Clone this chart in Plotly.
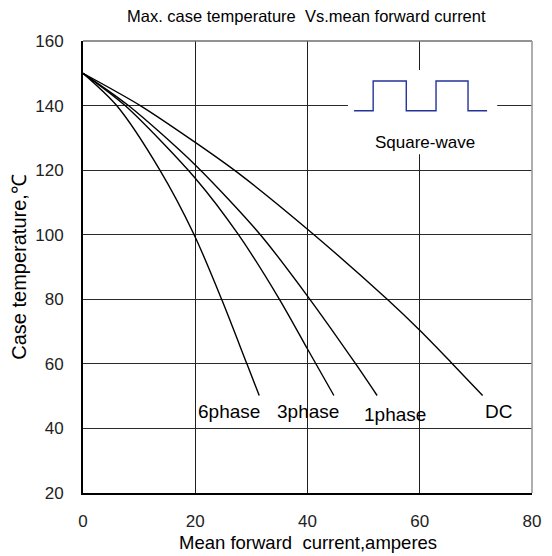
import plotly.graph_objects as go

# ---- data ----
dc_x = [0, 10.2, 20, 27.5, 40, 54.2, 60, 65.5, 71.2]
dc_y = [150, 140, 128.6, 119.3, 101.7, 80, 70.4, 60.6, 50.2]

ph1_x = [0, 8.1, 20, 31.6, 40, 48.5, 52.4]
ph1_y = [150, 140, 121.6, 100, 81.0, 60.2, 50.2]

ph3_x = [0, 7.5, 20, 27.7, 35.0, 40, 44.7]
ph3_y = [150, 140, 117.5, 100, 80, 64.6, 50.2]

ph6_x = [0, 6.0, 13.7, 19.8, 24.7, 29.2, 31.4]
ph6_y = [150, 140, 120, 100, 80, 60, 50.2]

curve_labels = ["6phase", "3phase", "1phase", "DC"]
label_x = [26.0, 40.1, 55.6, 74.0]
label_y = [45.1, 45.1, 44.2, 45.1]

# square-wave inset symbol
sq_x = [48.3, 51.7, 51.7, 57.6, 57.6, 62.9, 62.9, 68.6, 68.6, 72.0]
sq_y = [138.4, 138.4, 147.6, 147.6, 138.4, 138.4, 147.6, 147.6, 138.4, 138.4]

x_ticks = [0, 20, 40, 60, 80]
y_ticks = [20, 40, 60, 80, 100, 120, 140, 160]

FONT = "Liberation Sans, Arial, sans-serif"

fig = go.Figure()
for xs, ys in [(dc_x, dc_y), (ph1_x, ph1_y), (ph3_x, ph3_y), (ph6_x, ph6_y)]:
    fig.add_trace(go.Scatter(x=xs, y=ys, mode="lines",
                             line=dict(color="black", width=1.4, shape="spline", smoothing=0.8),
                             showlegend=False, hoverinfo="skip"))

fig.add_trace(go.Scatter(x=sq_x, y=sq_y, mode="lines",
                         line=dict(color="#23339a", width=1.4),
                         showlegend=False, hoverinfo="skip"))

annotations = []
for t, lx, ly in zip(curve_labels, label_x, label_y):
    annotations.append(dict(x=lx, y=ly, text=t, showarrow=False,
                            font=dict(family=FONT, size=19, color="black"),
                            xanchor="center", yanchor="middle"))
annotations.append(dict(x=61.0, y=128.7, text="Square-wave", showarrow=False,
                        font=dict(family=FONT, size=17, color="black"),
                        xanchor="center", yanchor="middle"))
annotations.append(dict(xref="paper", yref="paper", x=0.497, y=1.055,
                        text="Max. case temperature  Vs.mean forward current",
                        showarrow=False, xanchor="center", yanchor="middle",
                        font=dict(family=FONT, size=16.5, color="black")))
annotations.append(dict(xref="paper", yref="paper", x=0.5, y=-0.109,
                        text="Mean forward  current,amperes", showarrow=False,
                        xanchor="center", yanchor="middle",
                        font=dict(family=FONT, size=18.5, color="black")))
annotations.append(dict(xref="paper", yref="paper", x=-0.143, y=0.5,
                        text="Case temperature,℃", showarrow=False, textangle=-90,
                        xanchor="center", yanchor="middle",
                        font=dict(family=FONT, size=20, color="black")))

shapes = [
    # white box behind the inset
    dict(type="rect", xref="x", yref="y", x0=47.2, x1=73.8, y0=124.9, y1=151.0,
         fillcolor="white", line=dict(width=0), layer="between"),
    # top and right border (grey)
    dict(type="line", xref="paper", yref="paper", x0=0, x1=1, y0=1, y1=1,
         line=dict(color="#6e6e6e", width=1.6)),
    dict(type="line", xref="paper", yref="paper", x0=1, x1=1, y0=0, y1=1,
         line=dict(color="#9a9a9a", width=1.6)),
]

# page body has an 8px margin, so the figure is sized/margined to compensate
fig.update_layout(
    width=544, height=548,
    margin=dict(l=75, r=20, t=33, b=63),
    paper_bgcolor="white", plot_bgcolor="white",
    annotations=annotations, shapes=shapes,
    font=dict(family=FONT, size=16, color="black"),
)
fig.update_xaxes(range=[0, 80], tickvals=x_ticks, showgrid=True, gridcolor="#1e1e1e",
                 gridwidth=1.3, showline=True, linecolor="black", linewidth=2,
                 zeroline=False, ticks="", ticklabelstandoff=12,
                 tickfont=dict(family=FONT, size=17, color="#222"))
fig.update_yaxes(range=[20, 160], tickvals=y_ticks, showgrid=True, gridcolor="#2a2a2a",
                 gridwidth=1.3, showline=True, linecolor="black", linewidth=2,
                 zeroline=False, ticks="", ticklabelstandoff=14,
                 tickfont=dict(family=FONT, size=17, color="#222"))

fig.write_html("out.html")
